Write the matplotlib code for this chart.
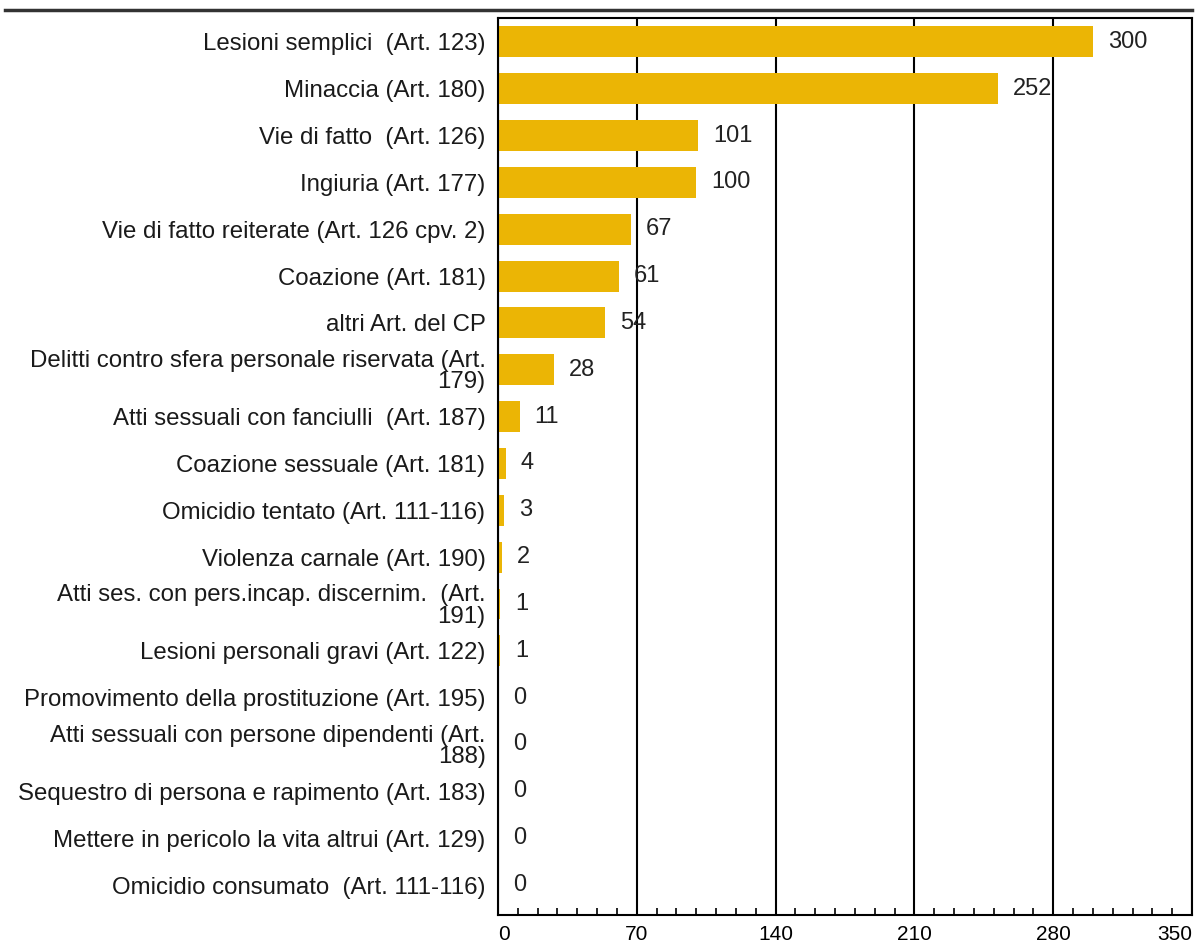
import matplotlib.pyplot as plt
from matplotlib.ticker import MultipleLocator

plt.rcParams['font.family'] = ['Liberation Sans', 'DejaVu Sans']

categories = [
    "Lesioni semplici  (Art. 123)",
    "Minaccia (Art. 180)",
    "Vie di fatto  (Art. 126)",
    "Ingiuria (Art. 177)",
    "Vie di fatto reiterate (Art. 126 cpv. 2)",
    "Coazione (Art. 181)",
    "altri Art. del CP",
    "Delitti contro sfera personale riservata (Art.\n179)",
    "Atti sessuali con fanciulli  (Art. 187)",
    "Coazione sessuale (Art. 181)",
    "Omicidio tentato (Art. 111-116)",
    "Violenza carnale (Art. 190)",
    "Atti ses. con pers.incap. discernim.  (Art.\n191)",
    "Lesioni personali gravi (Art. 122)",
    "Promovimento della prostituzione (Art. 195)",
    "Atti sessuali con persone dipendenti (Art.\n188)",
    "Sequestro di persona e rapimento (Art. 183)",
    "Mettere in pericolo la vita altrui (Art. 129)",
    "Omicidio consumato  (Art. 111-116)",
]
values = [300, 252, 101, 100, 67, 61, 54, 28, 11, 4, 3, 2, 1, 1, 0, 0, 0, 0, 0]
xticks = [0, 70, 140, 210, 280, 350]

fig = plt.figure(figsize=(11.97, 9.51), dpi=100)
ax = fig.add_axes([498 / 1197, 1 - 915 / 951, 694 / 1197, (915 - 18) / 951])

y = list(range(len(categories)))
ax.barh(y, values, height=0.66, color='#EBB505', zorder=2)
for yi, v in zip(y, values):
    ax.text(v + 7.5, yi, str(v), va='center', ha='left', fontsize=17, color='#222222', zorder=3)

ax.set_ylim(len(categories) - 0.36, -0.51)
ax.set_xlim(0, 350)
ax.set_yticks(y)
ax.set_yticklabels(categories, fontsize=17.3, ha='right', multialignment='right',
                   linespacing=0.95, color='#1a1a1a')
ax.tick_params(axis='y', length=0, pad=9)

ax.xaxis.set_minor_locator(MultipleLocator(10))
ax.set_xticks(xticks)
ax.set_xticklabels([str(t) for t in xticks], fontsize=15)
ax.tick_params(axis='x', which='major', direction='in', length=8, width=1.2, pad=7)
ax.tick_params(axis='x', which='minor', direction='in', length=5, width=1.2)
labels = ax.get_xticklabels()
labels[0].set_horizontalalignment('left')
labels[-1].set_horizontalalignment('right')
ax.grid(axis='x', which='major', color='black', linewidth=1.5, zorder=1)
ax.set_axisbelow(True)

for s in ax.spines.values():
    s.set_linewidth(1.5)

# line under the (cropped) title
fig.add_artist(plt.Line2D([5 / 1197, 1192 / 1197], [1 - 10 / 951, 1 - 10 / 951],
                          color='#333333', linewidth=2.5))

fig.savefig('out.png', dpi=100)
